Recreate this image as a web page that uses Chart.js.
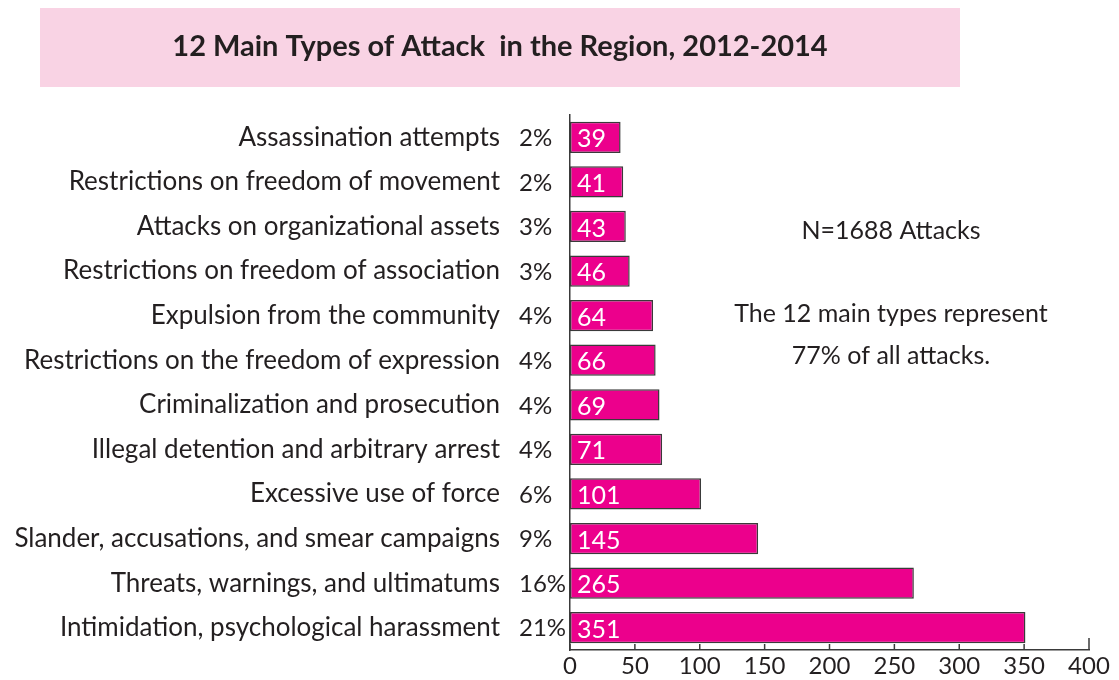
<!DOCTYPE html>
<html>
<head>
<meta charset="utf-8">
<script src="https://cdn.jsdelivr.net/npm/chart.js@4/dist/chart.umd.min.js"></script>
<style>
  html, body { margin: 0; padding: 0; background: #fff; }
  canvas { display: block; }
</style>
</head>
<body>
<canvas id="myChart" width="1119" height="680"></canvas>
<script>
const categories = [
  "Assassination attempts",
  "Restrictions on freedom of movement",
  "Attacks on organizational assets",
  "Restrictions on freedom of association",
  "Expulsion from the community",
  "Restrictions on the freedom of expression",
  "Criminalization and prosecution",
  "Illegal detention and arbitrary arrest",
  "Excessive use of force",
  "Slander, accusations, and smear campaigns",
  "Threats, warnings, and ultimatums",
  "Intimidation, psychological harassment",
];
const attacks = [39, 41, 43, 46, 64, 66, 69, 71, 101, 145, 265, 351];
const shares = ["2%", "2%", "3%", "3%", "4%", "4%", "4%", "4%", "6%", "9%", "16%", "21%"];
const xTicks = [0, 50, 100, 150, 200, 250, 300, 350, 400];

const titleText = "12 Main Types of Attack  in the Region, 2012-2014";
const notes = ["N=1688 Attacks", "The 12 main types represent", "77% of all attacks."];

const FONT = "Lato, 'Open Sans', sans-serif";
const INK = "#231f20";

// pink title box, percentages, value labels, notes, inner ticks
const extras = {
  id: "extras",
  beforeDraw(chart) {
    const c = chart.ctx;
    c.save();
    c.fillStyle = "#f9d3e4";
    c.fillRect(40, 8, 920, 79);
    c.fillStyle = INK;
    c.font = "bold 29px " + FONT;
    c.textAlign = "center";
    c.textBaseline = "middle";
    c.fillText(titleText, 500, 47);
    c.restore();
  },
  afterDraw(chart) {
    const c = chart.ctx;
    const x = chart.scales.x;
    const y = chart.scales.y;
    const meta = chart.getDatasetMeta(0);
    c.save();
    c.textBaseline = "middle";
    meta.data.forEach((bar, i) => {
      c.fillStyle = INK;
      c.textAlign = "left";
      c.font = "24px " + FONT;
      c.fillText(shares[i], 519, bar.y + 1);
      c.fillStyle = "#fff";
      c.font = "25px " + FONT;
      c.fillText(String(attacks[i]), x.getPixelForValue(0) + 7, bar.y + 2);
    });

    c.fillStyle = INK;
    c.textAlign = "center";
    c.font = "25px " + FONT;
    c.fillText(notes[0], 891, 231);
    c.fillText(notes[1], 891, 314);
    c.fillText(notes[2], 891, 356);

    c.strokeStyle = "#3a3a3a";
    c.lineWidth = 1.5;
    const base = y.bottom;
    xTicks.forEach(v => {
      const px = x.getPixelForValue(v);
      const h = v === 400 ? 12 : 6;
      c.beginPath();
      c.moveTo(px, base);
      c.lineTo(px, base - h);
      c.stroke();
    });
    c.restore();
  }
};

const myChart = new Chart(document.getElementById("myChart"), {
  type: "bar",
  data: {
    labels: categories,
    datasets: [
      {
        data: attacks,
        backgroundColor: "#ec008c",
        borderColor: "#3a3a3a",
        borderWidth: 1.5,
        borderSkipped: false,
        barPercentage: 0.7,
        categoryPercentage: 1,
      },
    ],
  },
  options: {
    indexAxis: "y",
    responsive: false,
    animation: false,
    layout: { padding: { top: 115, right: 30, bottom: 2, left: 0 } },
    plugins: {
      legend: { display: false },
      tooltip: { enabled: false },
    },
    scales: {
      x: {
        min: 0,
        max: 400,
        afterBuildTicks(scale) {
          scale.ticks = xTicks.map(v => ({ value: v }));
        },
        afterFit(scale) {
          scale.height = 28;
        },
        grid: { display: false, drawTicks: false },
        border: { display: true, color: "#3a3a3a", width: 1.5 },
        ticks: {
          padding: 4,
          color: INK,
          font: { family: FONT, size: 24, lineHeight: 1 },
          maxRotation: 0,
          autoSkip: false,
        },
      },
      y: {
        afterFit(scale) {
          scale.width = 570;
          scale.paddingTop = 0;
          scale.paddingBottom = 0;
        },
        grid: { display: false, drawTicks: false },
        border: { display: true, color: "#3a3a3a", width: 1.5 },
        ticks: {
          padding: 70,
          color: INK,
          font: { family: FONT, size: 26 },
          autoSkip: false,
        },
      },
    },
  },
  plugins: [extras],
});
</script>
</body>
</html>
